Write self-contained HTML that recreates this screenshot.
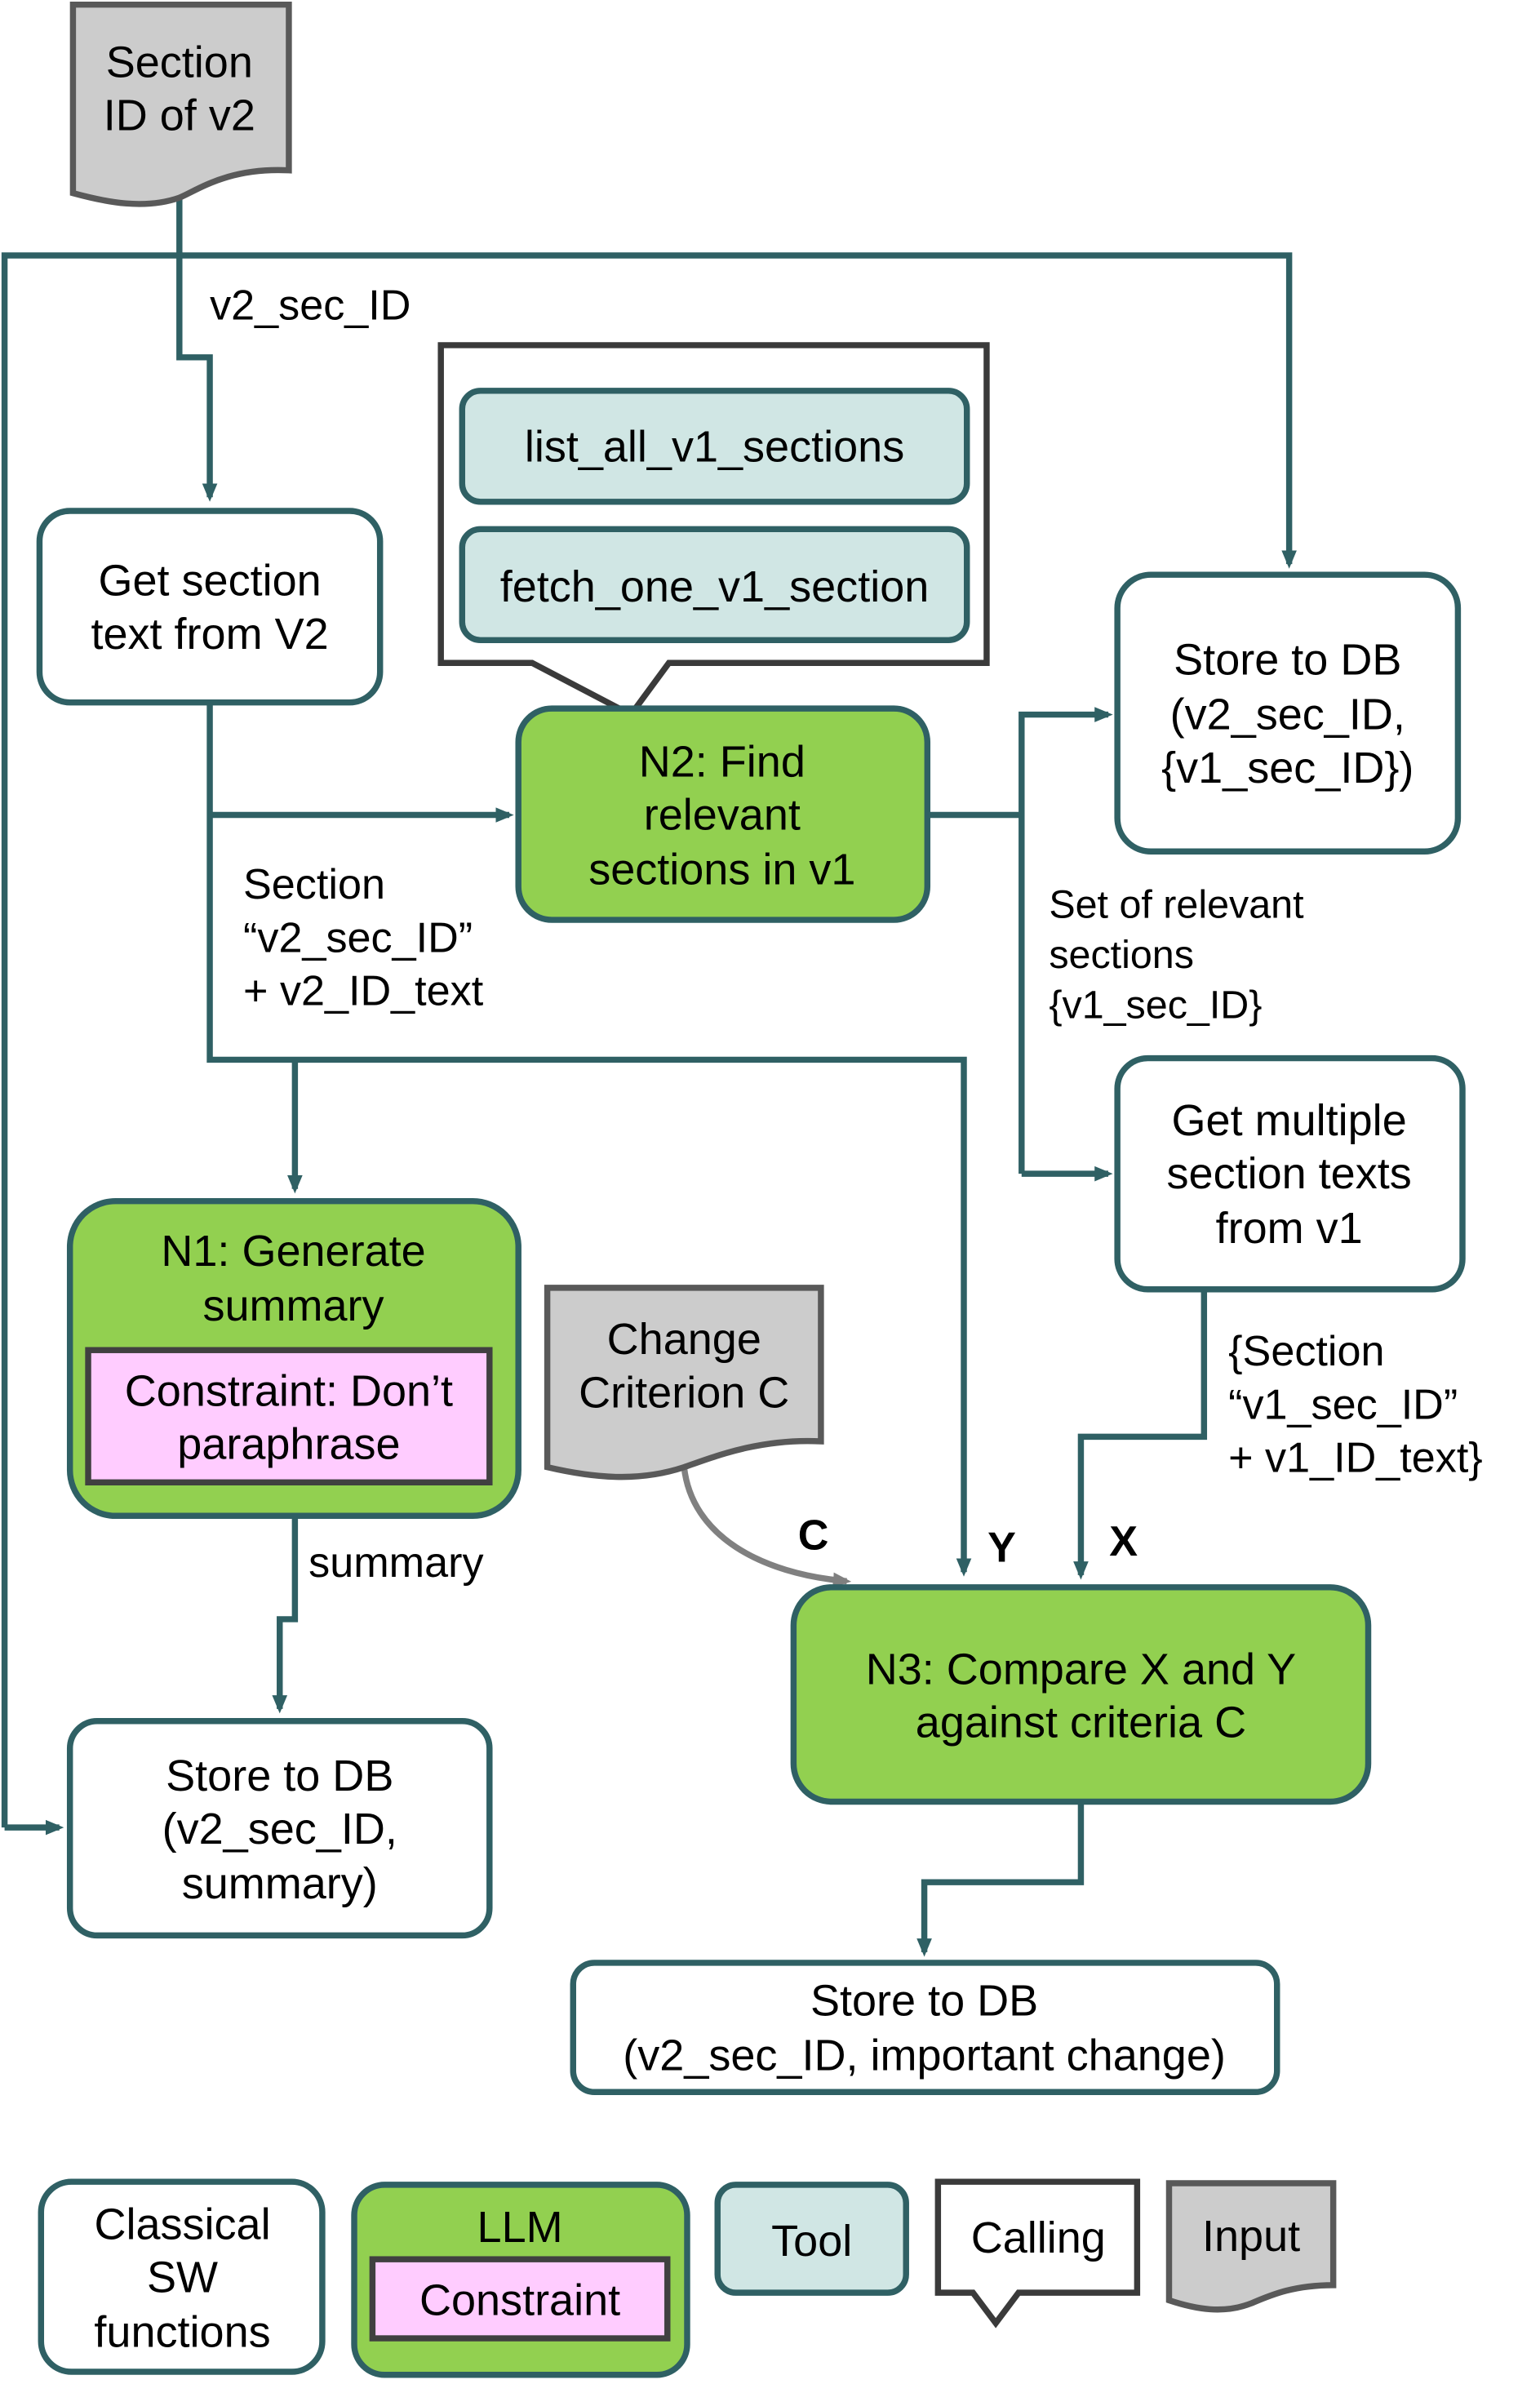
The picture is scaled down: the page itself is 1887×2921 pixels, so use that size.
<!DOCTYPE html>
<html><head><meta charset="utf-8"><style>
html,body{margin:0;padding:0;background:#fff;}
svg{display:block;}
text{font-family:"Liberation Sans",Arial,sans-serif;fill:#000;}
</style></head><body>
<svg width="1887" height="2921" viewBox="0 0 1013 1568" xmlns="http://www.w3.org/2000/svg">
<defs>
<marker id="a" markerWidth="12" markerHeight="12" refX="9" refY="6" orient="auto" markerUnits="userSpaceOnUse" viewBox="0 0 12 12"><path d="M0,1 L12,6 L0,11 z" fill="#2f6064"/></marker>
<marker id="ag" markerWidth="12" markerHeight="12" refX="9" refY="6" orient="auto" markerUnits="userSpaceOnUse" viewBox="0 0 12 12"><path d="M0,1 L12,6 L0,11 z" fill="#808080"/></marker>
</defs>
<g fill="none" stroke="#2f6064" stroke-width="4">
<path d="M118,130 V235 H138 V327" marker-end="url(#a)"/>
<path d="M3,1202 V168 H848 V371" marker-end="url(#a)"/>
<path d="M3,1202 H39" marker-end="url(#a)"/>
<path d="M138,462 V697 H634 V1034" marker-end="url(#a)"/>
<path d="M138,536 H335" marker-end="url(#a)"/>
<path d="M194,697 V782" marker-end="url(#a)"/>
<path d="M610,536 H672"/>
<path d="M672,772 V470 H729" marker-end="url(#a)"/>
<path d="M672,772 H729" marker-end="url(#a)"/>
<path d="M792,848 V945 H711 V1036" marker-end="url(#a)"/>
<path d="M194,997 V1065 H184 V1124" marker-end="url(#a)"/>
<path d="M711,1185 V1238 H608 V1284" marker-end="url(#a)"/>
</g>
<path d="M450,965 C455,1010 500,1035 557,1040" fill="none" stroke="#808080" stroke-width="4" marker-end="url(#ag)"/>

<path d="M48,3 H190 V112 C150,110 130,125 118,130 C95,138 70,133 48,127 Z" fill="#cccccc" stroke="#595959" stroke-width="4"/>
<text x="118" y="41" font-size="29" text-anchor="middle" dominant-baseline="central">Section</text>
<text x="118" y="76" font-size="29" text-anchor="middle" dominant-baseline="central">ID of v2</text>
<text x="138" y="201" font-size="28" dominant-baseline="central">v2_sec_ID</text>

<rect x="26" y="336" width="224" height="126" rx="20" fill="#fff" stroke="#2f6064" stroke-width="4"/>
<text x="138" y="382" font-size="29" text-anchor="middle" dominant-baseline="central">Get section</text>
<text x="138" y="417" font-size="29" text-anchor="middle" dominant-baseline="central">text from V2</text>

<path d="M290,227 H649 V436 H440 L415,470 L350,436 H290 Z" fill="#fff" stroke="#3a3a3a" stroke-width="4"/>
<rect x="304" y="257" width="332" height="73" rx="12" fill="#d0e6e4" stroke="#2f6064" stroke-width="4"/>
<text x="470" y="294" font-size="29" text-anchor="middle" dominant-baseline="central">list_all_v1_sections</text>
<rect x="304" y="348" width="332" height="73" rx="12" fill="#d0e6e4" stroke="#2f6064" stroke-width="4"/>
<text x="470" y="386" font-size="29" text-anchor="middle" dominant-baseline="central">fetch_one_v1_section</text>

<rect x="341" y="466" width="269" height="139" rx="22" fill="#92d050" stroke="#2f6064" stroke-width="4"/>
<text x="475" y="501" font-size="29" text-anchor="middle" dominant-baseline="central">N2: Find</text>
<text x="475" y="536" font-size="29" text-anchor="middle" dominant-baseline="central">relevant</text>
<text x="475" y="572" font-size="29" text-anchor="middle" dominant-baseline="central">sections in v1</text>

<text x="160" y="582" font-size="28" dominant-baseline="central">Section</text>
<text x="160" y="617" font-size="28" dominant-baseline="central">“v2_sec_ID”</text>
<text x="160" y="652" font-size="28" dominant-baseline="central">+ v2_ID_text</text>

<rect x="735" y="378" width="224" height="182" rx="22" fill="#fff" stroke="#2f6064" stroke-width="4"/>
<text x="847" y="434" font-size="29" text-anchor="middle" dominant-baseline="central">Store to DB</text>
<text x="847" y="470" font-size="29" text-anchor="middle" dominant-baseline="central">(v2_sec_ID,</text>
<text x="847" y="505" font-size="29" text-anchor="middle" dominant-baseline="central">{v1_sec_ID})</text>

<text x="690" y="595" font-size="26" dominant-baseline="central">Set of relevant</text>
<text x="690" y="628" font-size="26" dominant-baseline="central">sections</text>
<text x="690" y="661" font-size="26" dominant-baseline="central">{v1_sec_ID}</text>

<rect x="735" y="696" width="227" height="152" rx="20" fill="#fff" stroke="#2f6064" stroke-width="4"/>
<text x="848" y="737" font-size="29" text-anchor="middle" dominant-baseline="central">Get multiple</text>
<text x="848" y="772" font-size="29" text-anchor="middle" dominant-baseline="central">section texts</text>
<text x="848" y="808" font-size="29" text-anchor="middle" dominant-baseline="central">from v1</text>

<text x="808" y="889" font-size="28" dominant-baseline="central">{Section</text>
<text x="808" y="924" font-size="28" dominant-baseline="central">“v1_sec_ID”</text>
<text x="808" y="959" font-size="28" dominant-baseline="central">+ v1_ID_text}</text>

<rect x="46" y="790" width="295" height="207" rx="30" fill="#92d050" stroke="#2f6064" stroke-width="4"/>
<text x="193" y="823" font-size="29" text-anchor="middle" dominant-baseline="central">N1: Generate</text>
<text x="193" y="859" font-size="29" text-anchor="middle" dominant-baseline="central">summary</text>
<rect x="58" y="888" width="264" height="87" fill="#ffccff" stroke="#404040" stroke-width="4"/>
<text x="190" y="915" font-size="29" text-anchor="middle" dominant-baseline="central">Constraint: Don’t</text>
<text x="190" y="950" font-size="29" text-anchor="middle" dominant-baseline="central">paraphrase</text>

<path d="M360,847 H540 V948 C500,946 470,958 450,965 C420,975 390,972 360,965 Z" fill="#cccccc" stroke="#595959" stroke-width="4"/>
<text x="450" y="881" font-size="29" text-anchor="middle" dominant-baseline="central">Change</text>
<text x="450" y="916" font-size="29" text-anchor="middle" dominant-baseline="central">Criterion C</text>

<text x="535" y="1010" font-size="28" font-weight="bold" text-anchor="middle" dominant-baseline="central">C</text>
<text x="659" y="1018" font-size="28" font-weight="bold" text-anchor="middle" dominant-baseline="central">Y</text>
<text x="739" y="1014" font-size="28" font-weight="bold" text-anchor="middle" dominant-baseline="central">X</text>
<text x="203" y="1028" font-size="28" dominant-baseline="central">summary</text>

<rect x="46" y="1132" width="276" height="141" rx="18" fill="#fff" stroke="#2f6064" stroke-width="4"/>
<text x="184" y="1168" font-size="29" text-anchor="middle" dominant-baseline="central">Store to DB</text>
<text x="184" y="1203" font-size="29" text-anchor="middle" dominant-baseline="central">(v2_sec_ID,</text>
<text x="184" y="1239" font-size="29" text-anchor="middle" dominant-baseline="central">summary)</text>

<rect x="522" y="1044" width="378" height="141" rx="25" fill="#92d050" stroke="#2f6064" stroke-width="4"/>
<text x="711" y="1098" font-size="29" text-anchor="middle" dominant-baseline="central">N3: Compare X and Y</text>
<text x="711" y="1133" font-size="29" text-anchor="middle" dominant-baseline="central">against criteria C</text>

<rect x="377" y="1291" width="463" height="85" rx="14" fill="#fff" stroke="#2f6064" stroke-width="4"/>
<text x="608" y="1316" font-size="29" text-anchor="middle" dominant-baseline="central">Store to DB</text>
<text x="608" y="1352" font-size="29" text-anchor="middle" dominant-baseline="central">(v2_sec_ID, important change)</text>

<rect x="27" y="1435" width="185" height="125" rx="20" fill="#fff" stroke="#2f6064" stroke-width="4"/>
<text x="120" y="1463" font-size="29" text-anchor="middle" dominant-baseline="central">Classical</text>
<text x="120" y="1498" font-size="29" text-anchor="middle" dominant-baseline="central">SW</text>
<text x="120" y="1534" font-size="29" text-anchor="middle" dominant-baseline="central">functions</text>
<rect x="233" y="1437" width="219" height="125" rx="20" fill="#92d050" stroke="#2f6064" stroke-width="4"/>
<text x="342" y="1465" font-size="29" text-anchor="middle" dominant-baseline="central">LLM</text>
<rect x="245" y="1486" width="194" height="52" fill="#ffccff" stroke="#404040" stroke-width="4"/>
<text x="342" y="1513" font-size="29" text-anchor="middle" dominant-baseline="central">Constraint</text>
<rect x="472" y="1437" width="124" height="71" rx="12" fill="#d0e6e4" stroke="#2f6064" stroke-width="4"/>
<text x="534" y="1474" font-size="29" text-anchor="middle" dominant-baseline="central">Tool</text>
<path d="M617,1435 H748 V1508 H670 L655,1528 L640,1508 H617 Z" fill="#fff" stroke="#3a3a3a" stroke-width="4"/>
<text x="683" y="1472" font-size="29" text-anchor="middle" dominant-baseline="central">Calling</text>
<path d="M769,1436 H877 V1503 C850,1503 835,1510 823,1515 C805,1522 787,1519 769,1513 Z" fill="#cccccc" stroke="#595959" stroke-width="4"/>
<text x="823" y="1471" font-size="29" text-anchor="middle" dominant-baseline="central">Input</text>
</svg>
</body></html>
